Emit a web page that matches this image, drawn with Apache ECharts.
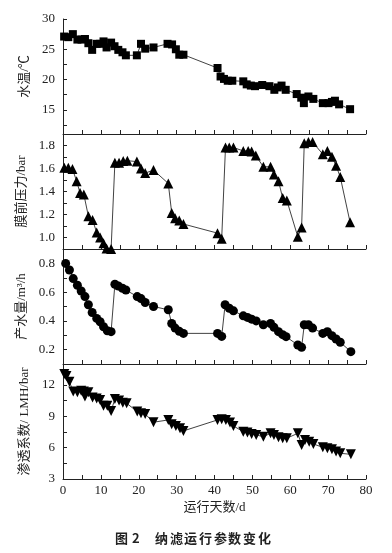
<!DOCTYPE html>
<html><head><meta charset="utf-8">
<script src="https://cdn.jsdelivr.net/npm/echarts@6/dist/echarts.min.js"></script>
<style>html,body{margin:0;padding:0;background:#fff}#c{width:392px;height:553px}</style>
</head><body><div id="c"></div>
<script>
// ---- data ----
var tempDays = [0.3,1.4,2.6,3.8,4.9,5.8,6.7,7.7,8.9,9.8,10.7,11.5,12.7,13.6,14.6,15.7,16.6,19.5,20.6,21.7,23.9,27.6,28.8,29.8,30.7,31.8,40.8,41.6,42.5,43.5,44.7,47.6,48.5,49.6,50.7,52.6,54.5,55.8,56.7,57.7,58.8,61.7,62.9,63.6,64.8,66.1,68.6,70.1,71.0,71.8,72.9,75.8];
var tempVals = [27.1,27.0,27.5,26.6,26.6,26.7,26.0,24.9,25.9,25.9,26.3,25.3,26.1,25.5,24.9,24.5,24.0,24.0,25.9,25.1,25.3,25.9,25.8,25.0,24.1,24.1,21.9,20.5,20.1,19.8,19.8,19.7,19.2,19.0,18.9,19.1,18.9,18.3,18.7,19.0,18.3,17.6,17.0,16.1,17.2,16.8,16.1,16.1,16.3,16.5,15.9,15.1];

var presDays = [0.35,1.4,2.5,3.6,4.5,5.5,6.7,7.8,8.9,9.8,10.7,11.5,12.7,13.7,14.8,15.9,17.0,19.5,20.6,21.7,23.9,27.8,28.7,29.6,30.7,31.8,40.8,41.9,42.9,43.9,45.0,47.6,48.9,49.8,50.9,52.9,54.8,55.7,56.9,58.0,59.1,62.0,63.0,63.7,64.8,65.9,68.6,69.8,71.0,72.1,73.2,75.8];
var presVals = [1.607,1.607,1.595,1.49,1.387,1.375,1.185,1.152,1.044,1.0,0.95,0.905,0.9,1.65,1.65,1.665,1.668,1.66,1.60,1.56,1.586,1.47,1.214,1.167,1.147,1.117,1.038,0.99,1.782,1.782,1.782,1.753,1.753,1.747,1.712,1.615,1.615,1.548,1.49,1.343,1.322,1.006,1.088,1.82,1.83,1.83,1.724,1.753,1.703,1.624,1.527,1.132];

var flowDays = [0.7,1.7,2.7,3.8,4.8,5.8,6.7,7.7,8.9,9.8,10.7,11.7,12.7,13.7,14.6,15.7,16.6,19.6,20.6,21.7,23.9,27.8,28.7,29.6,30.7,31.8,40.8,41.9,42.8,43.9,45.0,47.6,48.7,49.8,51.0,52.9,54.8,55.7,56.9,58.0,58.9,62.0,63.0,63.7,64.8,65.9,68.6,69.8,71.0,72.1,73.2,76.0];
var flowVals = [0.80,0.754,0.694,0.648,0.608,0.569,0.512,0.458,0.417,0.394,0.359,0.331,0.325,0.655,0.643,0.627,0.615,0.569,0.555,0.528,0.50,0.477,0.382,0.35,0.327,0.313,0.313,0.292,0.512,0.488,0.47,0.435,0.424,0.412,0.40,0.373,0.382,0.355,0.325,0.304,0.29,0.232,0.216,0.373,0.373,0.35,0.313,0.325,0.297,0.274,0.251,0.186];

var permDays = [0.35,0.9,1.7,2.7,3.8,4.8,5.5,5.8,6.7,7.8,8.9,9.8,10.7,11.7,12.7,13.7,14.8,15.8,16.8,19.6,20.6,21.7,23.9,27.8,28.7,29.8,30.9,31.8,40.8,41.9,43.0,44.1,45.0,47.6,48.7,49.8,51.0,52.9,54.8,55.7,56.9,58.0,59.1,62.0,63.0,63.9,65.0,66.1,68.6,69.8,71.0,72.1,73.2,76.0];
var permVals = [13.05,12.85,12.3,11.36,11.3,11.43,11.36,10.9,11.3,10.8,10.7,10.56,10.0,10.0,9.5,10.66,10.5,10.3,10.24,9.45,9.29,9.22,8.43,8.65,8.23,8.07,7.85,7.6,8.65,8.71,8.65,8.4,8.07,7.53,7.44,7.31,7.21,7.05,7.37,7.21,6.99,6.9,6.9,7.37,6.25,6.73,6.57,6.35,6.03,5.94,5.84,5.62,5.46,5.36];

var xTickVals = [0,5,10,15,20,25,30,35,40,45,50,55,60,65,70,75,80];
var xLabelVals = [0,10,20,30,40,50,60,70,80];
var yNames = ['水温/℃','膜前压力/bar','产水量/m\u00b3/h','渗透系数/ LMH/bar'];
var yRanges = [[11,30],[0.9,1.9],[0.1,0.9],[3,14]];
var yLabelVals = [[15,20,25,30],[1.0,1.2,1.4,1.6,1.8],[0.2,0.4,0.6,0.8],[3,6,9,12]];
var yTickVals = [[12.5,15,17.5,20,22.5,25,27.5,30],[1.0,1.1,1.2,1.3,1.4,1.5,1.6,1.7,1.8,1.9],[0.1,0.2,0.3,0.4,0.5,0.6,0.7,0.8,0.9],[3,4.5,6,7.5,9,10.5,12,13.5]];
var yDecimals = [0,1,1,0];
var xName = '运行天数/d';
var caption = ['图','2','纳','滤','运','行','参','数','变','化'];

function zip(a,b){return a.map(function(d,i){return [d,b[i]];});}
var seriesData = [zip(tempDays,tempVals),zip(presDays,presVals),zip(flowDays,flowVals),zip(permDays,permVals)];
var symbols = [['rect',8,0],['triangle',10,0],['circle',9,0],['triangle',10,180]];

var FONT = 'Liberation Serif, "Noto Sans CJK SC", serif';
var tops = [19,134,249,364];
var H = 115;
var grids=[], xAxes=[], yAxes=[], series=[];
for (var i=0;i<4;i++){
  grids.push({left:63, right:26, top:tops[i], height:H});
  var last = (i===3);
  xAxes.push({
    type:'value', gridIndex:i, min:0, max:80,
    axisLine:{show:true, lineStyle:{color:'#222', width:1}},
    axisTick:{show:true, inside:true, length:4, customValues:xTickVals, lineStyle:{color:'#222'}},
    axisLabel:{show:last, customValues:xLabelVals, color:'#222', fontFamily:FONT, fontSize:13, margin:5},
    splitLine:{show:false},
    name: last ? xName : '', nameLocation:'middle', nameGap:22,
    nameTextStyle:{color:'#222', fontFamily:FONT, fontSize:13}
  });
  (function(k){
  yAxes.push({
    type:'value', gridIndex:k, min:yRanges[k][0], max:yRanges[k][1],
    axisLine:{show:true, lineStyle:{color:'#222', width:1}},
    axisTick:{show:true, inside:true, length:4, customValues:yTickVals[k], lineStyle:{color:'#222'}},
    axisLabel:{customValues:yLabelVals[k], color:'#222', fontFamily:FONT, fontSize:13, margin:8,
      formatter:function(v){return Number(v).toFixed(yDecimals[k]);}},
    splitLine:{show:false},
    name:yNames[k], nameLocation:'middle', nameGap:32, nameRotate:90,
    nameTextStyle:{color:'#222', fontFamily:FONT, fontSize:13}
  });
  })(i);
  series.push({
    type:'line', xAxisIndex:i, yAxisIndex:i, data:seriesData[i],
    symbol:symbols[i][0], symbolSize:symbols[i][1], symbolRotate:symbols[i][2],
    showAllSymbol:true, clip:false,
    lineStyle:{color:'#111', width:0.8},
    itemStyle:{color:'#000', borderWidth:0},
    emphasis:{disabled:true}, animation:false
  });
}
var graphics = [];
var capX = [115,132,155,170,184,199,214,228,243,258];
for (var j=0;j<caption.length;j++){
  graphics.push({type:'text', left:capX[j], top:532,
    style:{text:caption[j], font:'bold 13px "Noto Sans CJK SC", sans-serif', fill:'#222'}});
}
var chart = echarts.init(document.getElementById('c'), null, {renderer:'canvas'});
chart.setOption({
  animation:false, backgroundColor:'#fff',
  grid:grids, xAxis:xAxes, yAxis:yAxes, series:series, graphic:graphics
});
</script></body></html>
